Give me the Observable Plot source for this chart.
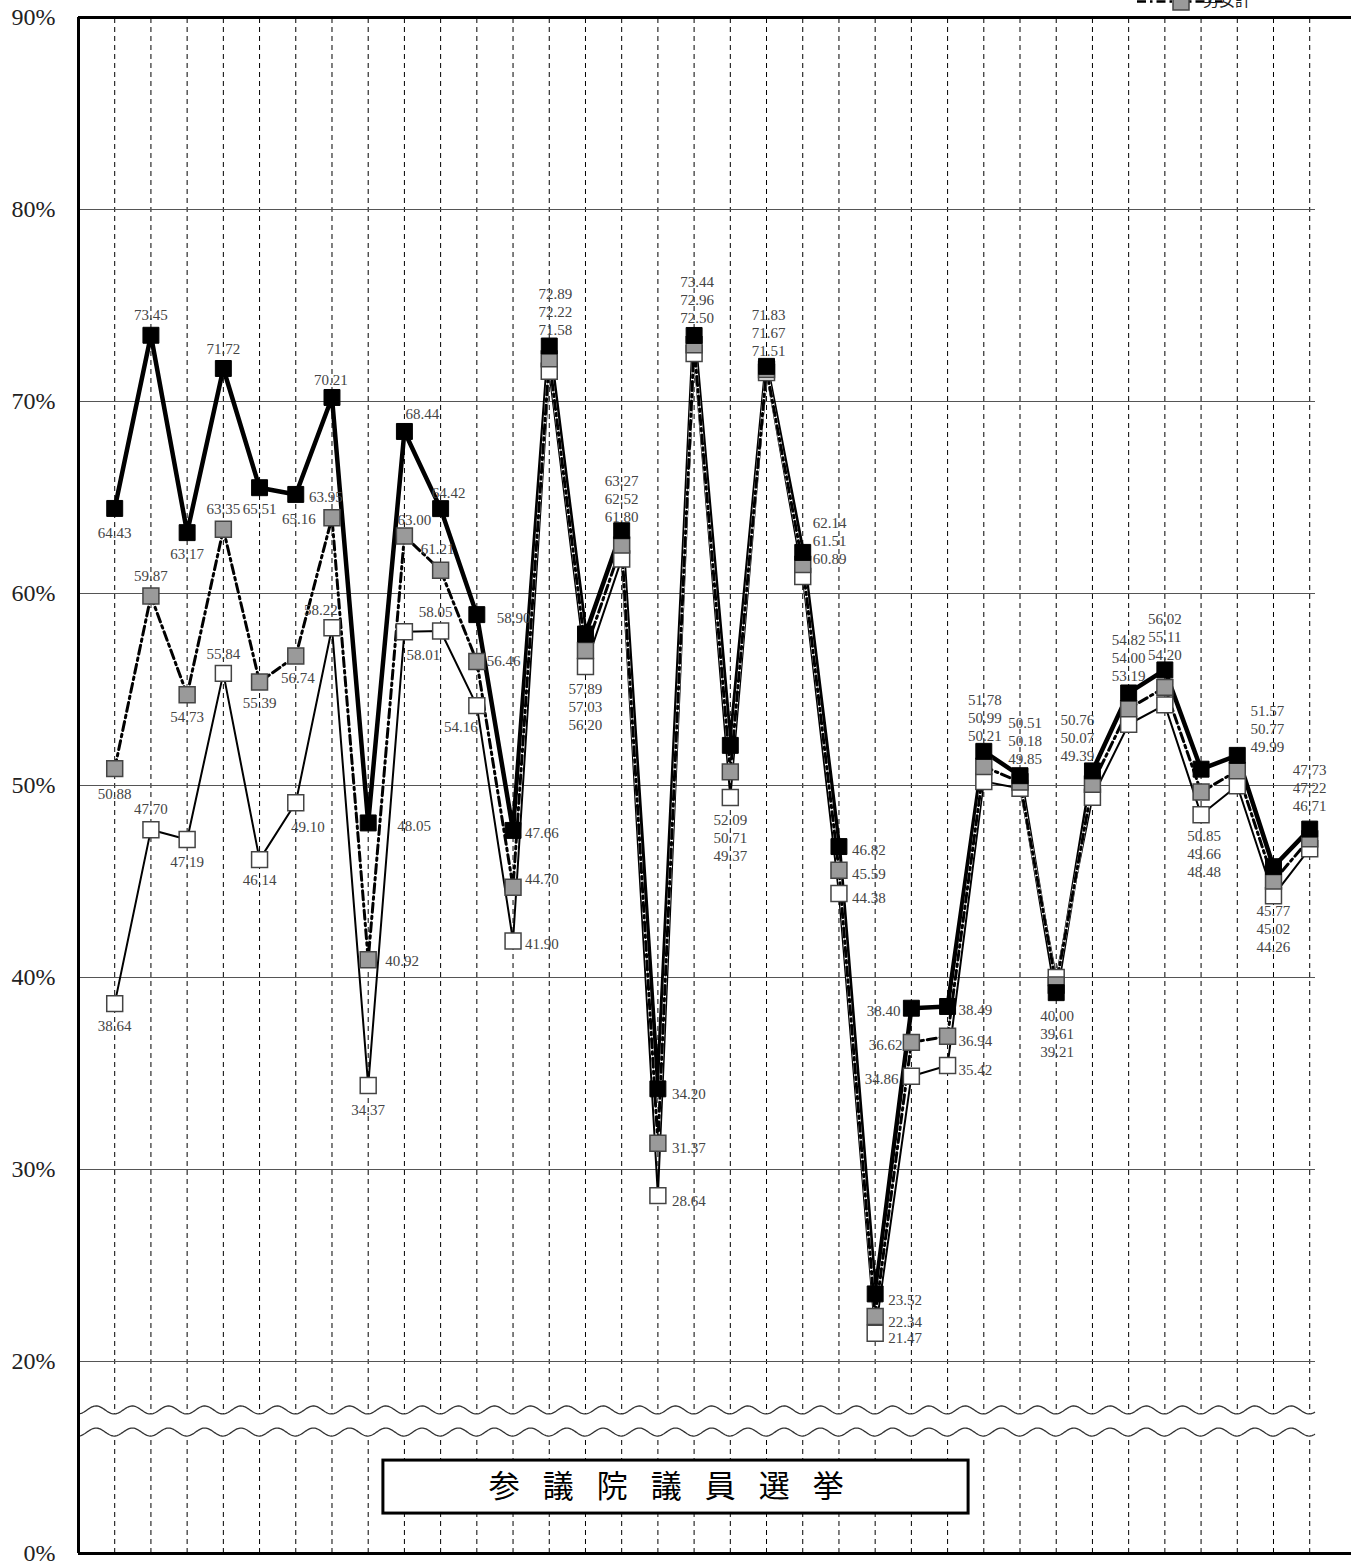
<!DOCTYPE html>
<html><head><meta charset="utf-8">
<script src="https://cdn.jsdelivr.net/npm/d3@7"></script>
<script src="https://cdn.jsdelivr.net/npm/@observablehq/plot@0.6"></script>
<style>
html,body{margin:0;padding:0;background:#fff;}
#chart svg{display:block;}
</style></head><body><div id="chart"></div>
<script>
// ---- data ----
const electionNo = [1,2,3,4,5,6,7,8,9,10,11,12,13,14,15,16,17,18,19,20,21,22,23,24,25,26,27,28,29,30,31,32,33,34];
const male   = [64.43,73.45,63.17,71.72,65.51,65.16,70.21,48.05,68.44,64.42,58.90,47.66,72.89,57.89,63.27,34.20,73.44,52.09,71.83,62.14,46.82,23.52,38.40,38.49,51.78,50.51,39.21,50.76,54.82,56.02,50.85,51.57,45.77,47.73];
const total  = [50.88,59.87,54.73,63.35,55.39,56.74,63.95,40.92,63.00,61.21,56.46,44.70,72.22,57.03,62.52,31.37,72.96,50.71,71.67,61.51,45.59,22.34,36.62,36.94,50.99,50.18,39.61,50.07,54.00,55.11,49.66,50.77,45.02,47.22];
const female = [38.64,47.70,47.19,55.84,46.14,49.10,58.22,34.37,58.01,58.05,54.16,41.90,71.58,56.20,61.80,28.64,72.50,49.37,71.51,60.89,44.38,21.47,34.86,35.42,50.21,49.85,40.00,49.39,53.19,54.20,48.48,49.99,44.26,46.71];
const yTicks = [10,20,30,40,50,60,70,80,90];
const yTickLabels = ["0%","20%","30%","40%","50%","60%","70%","80%","90%"];
const gridValues = [20,30,40,50,60,70,80];
const titleText = "参議院議員選挙";
const legendText = "男女計";

// ---- label layout (anchor, dx, dy in px) ----
const single = {
  0:{m:["m",0,24],t:["m",0,25],f:["m",0,22]},
  1:{m:["m",0,-21],t:["m",0,-21],f:["m",0,-21]},
  2:{m:["m",0,21],t:["m",0,22],f:["m",0,22]},
  3:{m:["m",0,-20],t:["m",0,-21],f:["m",0,-20]},
  4:{m:["m",0,21],t:["m",0,20],f:["m",0,20]},
  5:{m:["m",3,24],t:["m",2,21],f:["m",12,23]},
  6:{m:["m",-1,-18],t:["m",-6,-21],f:["m",-11,-18]},
  7:{m:["s",29,2],t:["s",17,0],f:["m",0,24]},
  8:{m:["m",18,-18],t:["m",10,-17],f:["m",19,23]},
  9:{m:["m",8,-16],t:["m",-3,-22],f:["m",-5,-20]},
  10:{m:["s",20,3],t:["s",10,-1],f:["m",-16,21]},
  11:{m:["s",12,2],t:["s",12,-9],f:["s",12,2]},
  15:{m:["s",14,4],t:["s",14,4],f:["s",14,5]},
  20:{m:["s",13,3],t:["s",13,3],f:["s",13,4]},
  21:{m:["s",13,5],t:["s",13,5],f:["s",13,4]},
  22:{m:["e",-11,2],t:["e",-9,2],f:["e",-13,2]},
  23:{m:["s",11,3],t:["s",11,4],f:["s",11,4]}
};
const stacked = {
  12:["T",6,-20],13:["B",0,24],14:["T",0,-18],16:["T",3,-21],17:["B",0,24],
  18:["T",2,-19],19:["R",10,3],24:["T",1,-19],25:["T",5,-21],26:["B",1,25],
  27:["T",-15,-19],28:["T",0,-21],29:["T",0,-19],30:["B",3,23],31:["T",30,-12],
  32:["B",0,17],33:["T",0,-27]
};

const rows = electionNo.map((n,i)=>({n, male:male[i], total:total[i], female:female[i]}));
const fmt = v => v.toFixed(2);
const SERIF = "'Liberation Serif','DejaVu Serif',serif";
const SANS = "'Noto Sans CJK JP','Noto Sans',sans-serif";
const anchorName = {m:"middle", s:"start", e:"end"};
const LH = 18; // line height px (15px * 1.2)
const DASH = "9,4,2.5,4";

const labelMarks = [];
const labelStyle = {fontSize:15, fontFamily:SERIF, fill:"#444", lineHeight:1.2};
rows.forEach((r,i)=>{
  if (single[i]) {
    for (const [key,field] of [["m","male"],["t","total"],["f","female"]]) {
      const [a,dx,dy] = single[i][key];
      labelMarks.push(Plot.text([r], {x:"n", y:field, text:d=>fmt(d[field]), textAnchor:anchorName[a], dx, dy, lineAnchor:"middle", ...labelStyle}));
    }
  } else if (stacked[i]) {
    const [mode,dx,dy] = stacked[i];
    const vals = [r.male, r.total, r.female].sort((a,b)=>b-a);
    const txt = vals.map(fmt).join("\n");
    if (mode === "B") {
      labelMarks.push(Plot.text([r], {x:"n", y:()=>vals[2], text:()=>txt, textAnchor:"middle", dx, dy:dy-LH/2, lineAnchor:"top", ...labelStyle}));
    } else {
      labelMarks.push(Plot.text([r], {x:"n", y:()=>vals[0], text:()=>txt, textAnchor: mode==="R"?"start":"middle", dx, dy:dy+LH/2, lineAnchor:"bottom", ...labelStyle}));
    }
  }
});

// wavy axis-break decoration
function breakMark(index, scales, values, dims) {
  const x0 = scales.x(0), x1 = scales.x(34.16);
  const period = scales.x(2) - scales.x(1);
  const ph = scales.x(1);
  const amp = 4;
  const yu = scales.y(17.45), yl = scales.y(16.3);
  const wave = base => d3.range(x0, x1 + 0.01, 1).map(px => [px, base + amp*Math.cos(2*Math.PI*(px-ph)/period)]);
  const up = wave(yu), lo = wave(yl);
  const g = d3.create("svg:g");
  g.append("path").attr("d", d3.line()(up.concat(lo.slice().reverse())) + "Z").attr("fill","#fff");
  for (const w of [up, lo]) g.append("path").attr("d", d3.line()(w)).attr("fill","none").attr("stroke","#333").attr("stroke-width",1.3);
  return g.node();
}

// legend (only its lower edge is visible at the top of the picture)
function legendMark(index, scales, values, dims) {
  const g = d3.create("svg:g");
  g.append("line").attr("x1",1137).attr("x2",1222).attr("y1",1.5).attr("y2",1.5).attr("stroke","#000").attr("stroke-width",2.5).attr("stroke-dasharray",DASH);
  g.append("rect").attr("x",1173).attr("y",-6).attr("width",16).attr("height",16).attr("fill","#9a9a9a").attr("stroke","#444").attr("stroke-width",1.5);
  g.append("text").attr("x",1227).attr("y",5.5).attr("font-size",16).attr("font-family",SANS).attr("fill","#222").text(legendText);
  return g.node();
}

const tickLabelOf = new Map(yTicks.map((t,i)=>[t, yTickLabels[i]]));
const xEnd = 35.154;

const plot = Plot.plot({
  width:1351, height:1561, marginTop:17, marginBottom:8, marginLeft:78, marginRight:0,
  style:{fontFamily:SERIF, background:"#fff", color:"#222"},
  x:{type:"linear", domain:[0, xEnd], axis:null},
  y:{type:"linear", domain:[10, 90], axis:null},
  marks:[
    Plot.ruleX(electionNo, {y1:10, y2:90, stroke:"#000", strokeWidth:1, strokeDasharray:"5,4"}),
    Plot.ruleY(gridValues, {x1:0, x2:34.16, stroke:"#555", strokeWidth:1}),
    breakMark,
    Plot.ruleY([90], {x1:0, x2:xEnd, stroke:"#000", strokeWidth:3}),
    Plot.ruleY([10], {x1:0, x2:xEnd, stroke:"#000", strokeWidth:3}),
    Plot.ruleX([0], {y1:10, y2:90, stroke:"#000", strokeWidth:3}),
    Plot.axisY(yTicks, {tickSize:0, tickPadding:23, tickFormat:d=>tickLabelOf.get(d), fontSize:24, fontFamily:SERIF}),
    // lines
    Plot.line(rows, {x:"n", y:"female", stroke:"#000", strokeWidth:2}),
    Plot.line(rows, {x:"n", y:"male", stroke:"#000", strokeWidth:4.5}),
    Plot.line(rows, {x:"n", y:"total", stroke:"#fff", strokeWidth:3}),
    Plot.line(rows, {x:"n", y:"total", stroke:"#000", strokeWidth:3, strokeDasharray:DASH}),
    // markers
    Plot.dot(rows, {x:"n", y:"female", symbol:"square", r:9, fill:"#fff", stroke:"#444", strokeWidth:1.5}),
    Plot.dot(rows, {x:"n", y:"total", symbol:"square", r:9, fill:"#9a9a9a", stroke:"#444", strokeWidth:1.5}),
    Plot.dot(rows, {x:"n", y:"male", symbol:"square", r:9, fill:"#000", stroke:"#000", strokeWidth:1}),
    ...labelMarks,
    // title box
    Plot.rect([titleText], {x1:8.42, x2:24.58, y1:12.08, y2:14.84, fill:"#fff", stroke:"#000", strokeWidth:3}),
    Plot.text([titleText], {x:11.33, y:13.46, text:d=>d, textAnchor:"start", fontSize:31, fontFamily:SANS, fill:"#000"}),
    legendMark
  ]
});
d3.select(plot).selectAll("text").filter(function(){return this.textContent === titleText;}).attr("letter-spacing", 23);
document.getElementById("chart").appendChild(plot);
</script>
</body></html>
